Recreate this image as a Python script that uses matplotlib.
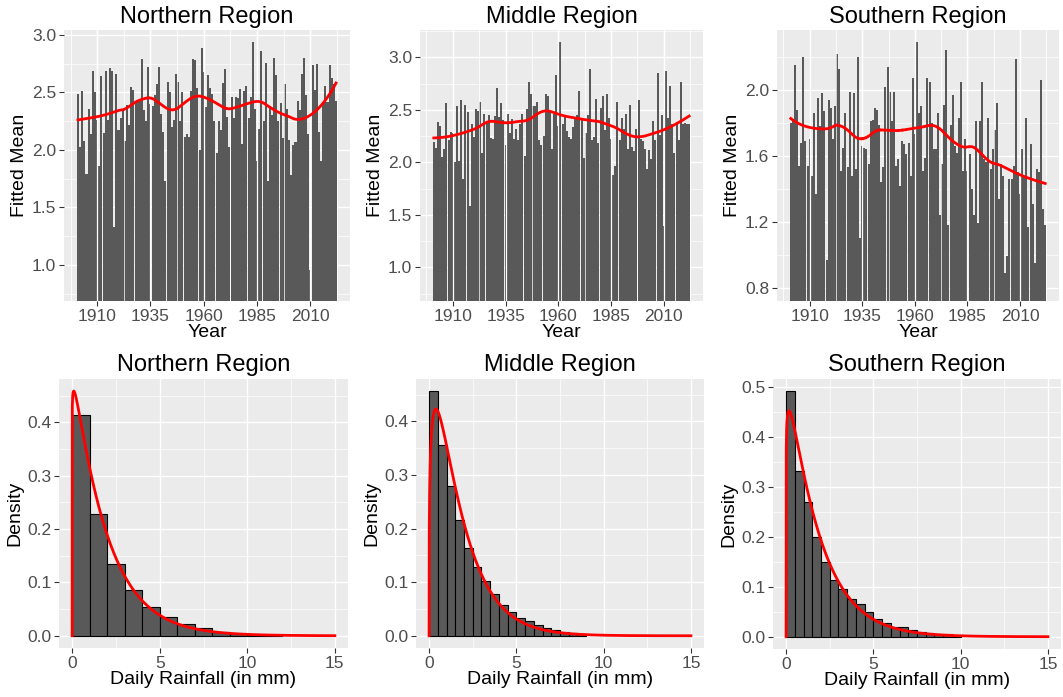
import numpy as np
import matplotlib
matplotlib.use("Agg")
import matplotlib.pyplot as plt
from math import gamma as gamma_fn

plt.rcParams['font.family'] = ['Liberation Sans', 'DejaVu Sans']

# ---------------- data ----------------
years = list(range(1901, 2023))
region_titles = ["Northern Region", "Middle Region", "Southern Region"]

north_mean = [
    2.49, 2.03, 2.51, 2.08, 1.79, 2.36, 2.14, 2.69, 2.50, 2.26,
    1.86, 2.64, 2.15, 2.69, 2.26, 2.71, 2.69, 1.33, 2.66, 2.17,
    2.28, 2.34, 2.08, 2.39, 2.22, 2.55, 2.52, 2.43, 2.43, 2.43,
    2.79, 2.35, 2.25, 2.72, 2.40, 2.38, 2.48, 2.57, 2.72, 2.31,
    2.16, 1.73, 2.59, 2.50, 2.20, 2.26, 2.66, 2.59, 2.25, 2.50,
    2.11, 2.14, 2.11, 2.51, 2.79, 2.78, 2.54, 2.00, 2.89, 2.68,
    2.37, 2.65,
    2.54, 2.49, 2.25, 1.97, 2.25, 2.17, 2.58, 2.70, 2.29, 2.03,
    2.46, 2.28, 2.46, 2.45, 2.53, 2.05, 2.51, 2.56, 2.28, 2.46,
    2.94, 2.36, 1.90, 2.18, 2.86, 2.25, 2.76, 1.73, 2.38, 2.30,
    2.80, 2.65, 2.25, 2.41, 2.10, 2.57, 2.36, 2.09, 1.78, 2.04,
    2.07, 2.43, 2.35, 2.66, 2.80, 2.48, 2.14, 0.96, 2.74, 2.52,
    2.75, 2.16, 1.90, 2.42, 2.56, 2.42, 2.74, 2.63, 2.57, 2.43,
]

middle_mean = [
    2.19, 2.14, 2.38, 2.35, 2.05, 2.13, 2.56, 2.21, 2.29, 2.28,
    2.00, 2.54, 2.01, 2.59, 1.84, 2.55, 2.48, 1.58, 2.36, 2.24,
    2.51, 2.49, 2.57, 2.09, 2.46, 2.37, 2.45, 2.23, 2.22, 2.44,
    2.71, 2.43, 2.56, 2.40, 2.16, 2.46, 2.28, 2.41, 2.22, 2.32,
    2.21, 2.36, 2.46, 2.06, 2.51, 2.76, 2.65, 2.54, 2.54, 2.57,
    2.21, 2.16, 2.25, 2.65, 2.63, 2.49, 2.13, 2.46, 2.83, 2.35,
    3.15,
    2.36, 2.43, 2.30, 2.24, 2.22, 2.34, 2.41, 2.45, 2.68, 2.42,
    2.04, 2.28, 2.45, 2.89, 2.21, 2.24, 2.60, 2.18, 2.52, 2.63,
    2.31, 2.65, 2.42, 2.22, 1.88, 1.96, 2.57, 2.21, 2.42, 2.32,
    2.46, 2.13, 2.55, 2.15, 2.11, 2.32, 2.59, 2.22, 2.20, 2.13,
    1.94, 2.12, 2.03, 2.39, 2.21, 2.85, 2.26, 2.45, 1.39, 2.87,
    2.42, 2.73, 2.36, 2.09, 2.38, 2.21, 2.76, 2.36, 2.37, 2.36,
    2.36,
]

south_mean = [
    1.80, 1.81, 2.15, 1.88, 1.54, 1.68, 2.20, 1.69, 1.54, 1.70,
    1.48, 1.86, 1.37, 1.95, 1.78, 1.98, 1.87, 0.97, 1.94, 1.89,
    1.70, 1.90, 2.22, 2.13, 1.51, 1.65, 1.86, 1.53, 1.99, 1.48,
    1.98, 1.52, 2.20, 1.10, 1.66, 1.65, 1.64, 1.55, 1.81, 1.82,
    1.89, 1.88, 1.79, 1.44, 1.53, 2.02, 2.14, 1.99, 1.81, 1.99,
    1.54, 1.58, 1.42, 1.69, 1.67, 1.61, 1.68, 1.48, 2.07, 1.73,
    2.29,
    1.86, 1.90, 1.51, 1.59, 2.07, 2.05, 1.80, 1.64, 1.64, 1.86,
    1.24, 1.55, 1.91, 2.24, 1.18, 1.79, 1.97, 1.66, 1.62, 1.83,
    2.05, 1.51, 1.70, 1.51, 1.61, 1.40, 1.24, 1.81, 1.19, 1.81,
    2.05, 1.58, 1.56, 1.83, 1.52, 1.64, 1.76, 1.92, 1.34, 1.55,
    1.48, 0.89, 0.99, 1.46, 1.46, 1.54, 2.19, 1.50, 1.37, 1.64,
    1.47, 1.83, 1.17, 1.67, 1.31, 0.95, 1.52, 1.50, 2.06, 1.28,
    1.18,
]

# histogram densities (bin width, densities)
north_bin_width = 1.0
north_density = [0.414, 0.228, 0.135, 0.085, 0.053, 0.0355, 0.022, 0.015,
                 0.0075, 0.004, 0.002, 0.0006]
middle_bin_width = 0.5
middle_density = [0.4565, 0.355, 0.2795, 0.2155, 0.163, 0.129, 0.102, 0.078,
                  0.058, 0.045, 0.0335, 0.028, 0.021, 0.015, 0.011, 0.0075,
                  0.005, 0.003]
south_bin_width = 0.5
south_density = [0.492, 0.333, 0.271, 0.200, 0.1506, 0.1138, 0.0964, 0.0763,
                 0.065, 0.050, 0.036, 0.028, 0.020, 0.019, 0.0134, 0.010,
                 0.0074, 0.0054, 0.0047, 0.0027]

# fitted gamma density parameters (shape, rate)
north_fit = (1.05, 0.545)
middle_fit = (1.28, 0.72)
south_fit = (1.10, 0.60)

# ---------------- helpers ----------------
W, H = 1063, 697
BG = '#EBEBEB'
BAR = '#595959'


def box(l, t, r, b):
    return [l / W, 1 - b / H, (r - l) / W, (b - t) / H]


def loess(x, y, xs, span=0.25):
    x = np.asarray(x, float)
    y = np.asarray(y, float)
    q = int(np.ceil(span * len(x)))
    out = []
    for x0 in xs:
        d = np.abs(x - x0)
        h = np.sort(d)[q - 1]
        w = np.clip(1 - (d / h) ** 3, 0, None) ** 3
        c = np.polyfit(x - x0, y, 2, w=np.sqrt(w))
        out.append(c[-1])
    return np.array(out)


def gamma_pdf(x, k, r):
    x = np.asarray(x, float)
    out = np.zeros_like(x)
    m = x > 0
    out[m] = r ** k * x[m] ** (k - 1) * np.exp(-r * x[m]) / gamma_fn(k)
    return out


def style(ax):
    ax.set_facecolor(BG)
    for s in ax.spines.values():
        s.set_visible(False)
    ax.set_axisbelow(True)
    ax.grid(which='major', color='white', lw=1.0)
    ax.grid(which='minor', color='white', lw=0.5)
    ax.tick_params(which='major', length=3.5, width=0.8, color='#333333',
                   labelsize=12.5, labelcolor='#4D4D4D', pad=2)
    ax.tick_params(which='minor', length=0)


TITLE_FS = 17
LABEL_FS = 14

fig = plt.figure(figsize=(W / 100, H / 100), dpi=100)

# ---------------- top row ----------------
top_boxes = [box(64, 30, 350, 301), box(420, 30, 703, 301), box(777, 30, 1059, 301)]
top_data = [north_mean, middle_mean, south_mean]
top_ylims = [(0.687, 3.043), (0.679, 3.26), (0.719, 2.364)]
top_yticks = [[1.0, 1.5, 2.0, 2.5, 3.0], [1.0, 1.5, 2.0, 2.5, 3.0], [0.8, 1.2, 1.6, 2.0]]
top_yminor = [np.arange(0.75, 3.01, 0.5), np.arange(0.75, 3.3, 0.5), [1.0, 1.4, 1.8, 2.2]]
xmajor = [1910, 1935, 1960, 1985, 2010]
xminor = [1897.5, 1922.5, 1947.5, 1972.5, 1997.5, 2022.5]

yrs = np.array(years)
for i in range(3):
    ax = fig.add_axes(top_boxes[i])
    style(ax)
    vals = np.array(top_data[i])
    ax.bar(yrs, vals, width=0.95, color=BAR, zorder=2)
    # grid lines visible through the bar gaps
    ax.vlines(xmajor, *top_ylims[i], color='white', lw=0.9, zorder=2.5)
    ax.vlines(xminor, *top_ylims[i], color='white', lw=0.5, zorder=2.5)
    xs = np.linspace(yrs.min(), yrs.max(), 300)
    ax.plot(xs, loess(yrs, vals, xs, span=0.36), color='red', lw=2.0, zorder=3)
    ax.set_xlim(1894.45, 2028.55)
    ax.set_ylim(*top_ylims[i])
    ax.set_xticks(xmajor)
    ax.set_xticks(xminor, minor=True)
    ax.set_yticks(top_yticks[i])
    ax.set_yticklabels([f"{v:.1f}" for v in top_yticks[i]])
    ax.set_yticks(top_yminor[i], minor=True)
    ax.set_title(region_titles[i], fontsize=TITLE_FS, pad=5)
    ax.set_xlabel("Year", fontsize=LABEL_FS, labelpad=0)
    ax.set_ylabel("Fitted Mean", fontsize=LABEL_FS, labelpad=3)

# ---------------- bottom row ----------------
bot_boxes = [box(59, 379, 348, 648), box(416, 379, 704, 648), box(773, 379, 1061, 649)]
bot_dens = [north_density, middle_density, south_density]
bot_bw = [north_bin_width, middle_bin_width, south_bin_width]
bot_fit = [north_fit, middle_fit, south_fit]
bot_ylims = [(-0.0229, 0.481), (-0.0228, 0.479), (-0.0246, 0.517)]
bot_yticks = [np.arange(0, 0.41, 0.1), np.arange(0, 0.41, 0.1), np.arange(0, 0.51, 0.1)]
bot_yminor = [np.arange(0.05, 0.46, 0.1), np.arange(0.05, 0.46, 0.1), np.arange(0.05, 0.46, 0.1)]

for i in range(3):
    ax = fig.add_axes(bot_boxes[i])
    style(ax)
    d = np.array(bot_dens[i])
    bw = bot_bw[i]
    left = np.arange(len(d)) * bw
    ax.bar(left, d, width=bw, align='edge', color=BAR, edgecolor='black',
           linewidth=0.8, zorder=2)
    xg = np.linspace(0, 15, 1501)
    ax.plot(xg, gamma_pdf(xg, *bot_fit[i]), color='red', lw=2.0, zorder=3)
    ax.set_xlim(-0.75, 15.75)
    ax.set_ylim(*bot_ylims[i])
    ax.set_xticks([0, 5, 10, 15])
    ax.set_xticks([2.5, 7.5, 12.5], minor=True)
    ax.set_yticks(bot_yticks[i])
    ax.set_yticklabels([f"{v:.1f}" for v in bot_yticks[i]])
    ax.set_yticks(bot_yminor[i], minor=True)
    ax.set_title(region_titles[i], fontsize=TITLE_FS, pad=6)
    ax.set_xlabel("Daily Rainfall (in mm)", fontsize=LABEL_FS, labelpad=0)
    ax.set_ylabel("Density", fontsize=LABEL_FS, labelpad=3)

fig.savefig("out.png", dpi=100, facecolor='white')
